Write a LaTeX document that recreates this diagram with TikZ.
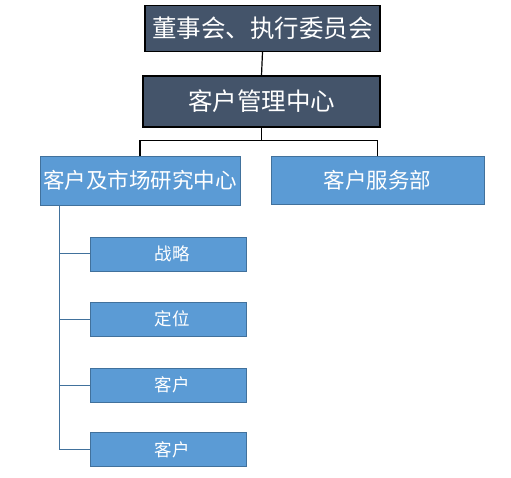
\documentclass[tikz,border=0pt]{standalone}
\usepackage{fontspec}
\newfontfamily\cjk{Noto Sans CJK SC}
\usetikzlibrary{calc}
\definecolor{darkbox}{HTML}{44546A}
\definecolor{lightbox}{HTML}{5B9BD5}
\definecolor{lightedge}{HTML}{41719C}

\begin{document}
\begin{tikzpicture}[x=1pt,y=-1pt,
  headbox/.style={draw=black,line width=1.2pt,fill=darkbox,text=white,inner sep=0pt,font=\cjk\fontsize{24.5}{26}\selectfont},
  deptbox/.style={draw=lightedge,line width=0.9pt,fill=lightbox,text=white,inner sep=0pt,font=\cjk\fontsize{21.5}{24}\selectfont},
  subbox/.style={draw=lightedge,line width=0.9pt,fill=lightbox,text=white,inner sep=0pt,minimum width=156pt,minimum height=34pt,font=\cjk\fontsize{17.5}{19}\selectfont},
  link/.style={black,line width=1.2pt},
  tree/.style={lightedge,line width=1pt}]
\useasboundingbox (0,0) rectangle (511,478);
%head boxes
\node[headbox,minimum width=235pt,minimum height=46pt] (board) at (262.5,28.5) {董事会、执行委员会};
\node[headbox,minimum width=237pt,minimum height=51pt] (mgmt) at (261.5,101.5) {客户管理中心};
\draw[link] (board.south) -- (mgmt.north);
%departments
\node[deptbox,minimum width=200pt,minimum height=49pt] (research) at (140,180.5) {客户及市场研究中心};
\node[deptbox,minimum width=213pt,minimum height=48pt] (service) at (377.5,180) {客户服务部};
\draw[link] (mgmt.south) -- ++(0,13) coordinate (fork);
\draw[link] (fork) -| (research.north);
\draw[link] (fork) -| (service.north);
%sub items
\foreach \name/\y/\txt in {s1/254/战略,s2/319/定位,s3/385/客户,s4/449.5/客户}{
  \node[subbox] (\name) at (168,\y) {\hspace*{8pt}\txt};
  \draw[tree] ($(research.south west)+(20,0)$) |- (\name.west);
}
\end{tikzpicture}
\end{document}
